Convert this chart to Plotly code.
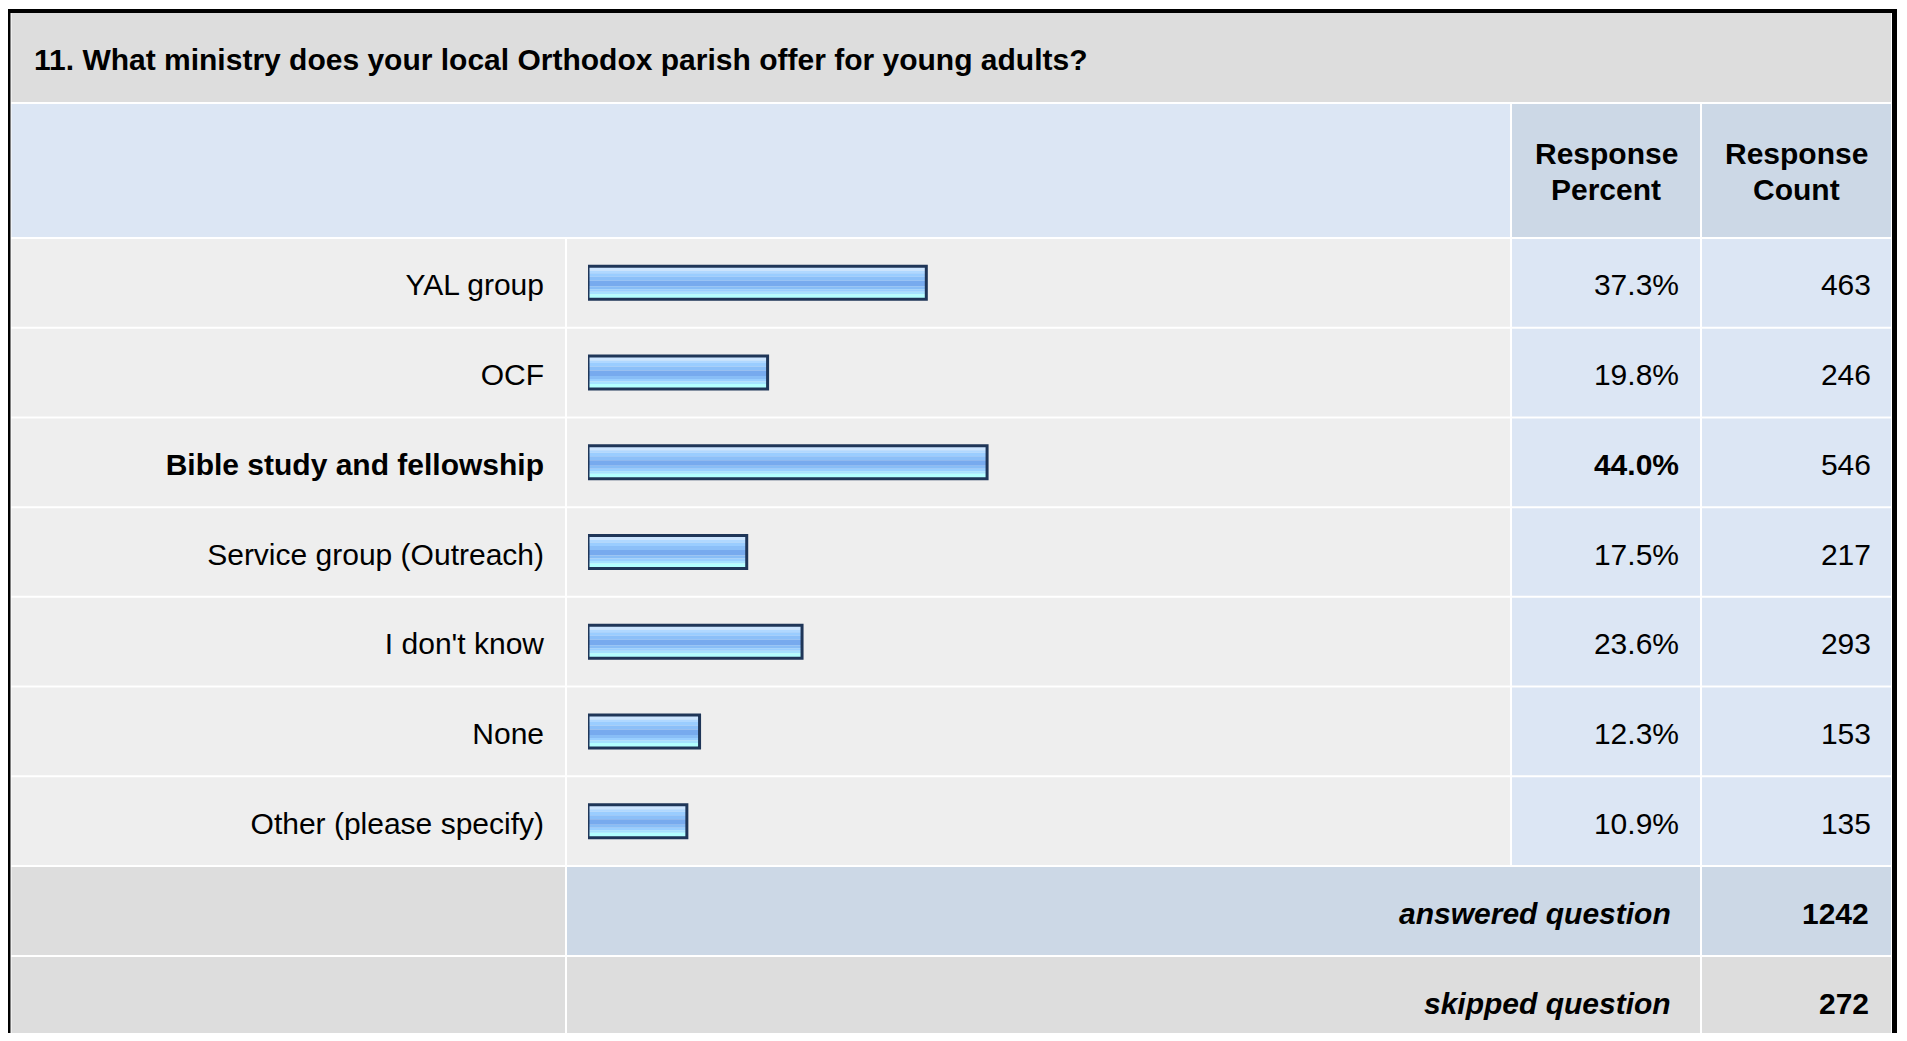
import plotly.graph_objects as go

# survey data
title_text = "11. What ministry does your local Orthodox parish offer for young adults?"
labels = ["YAL group", "OCF", "Bible study and fellowship", "Service group (Outreach)",
          "I don't know", "None", "Other (please specify)"]
percents = [37.3, 19.8, 44.0, 17.5, 23.6, 12.3, 10.9]
counts = [463, 246, 546, 217, 293, 153, 135]
answered_count = 1242
skipped_count = 272

# page geometry (browser body has an 8px margin)
OFF = 8
FW, FH = 1891, 1025
FONT = "Liberation Sans, Arial, sans-serif"

def px(X):
  return (X - OFF) / FW

def py(Y):
  return 1 - (Y - OFF) / FH

ROW_TOP, ROW_BOT = 238, 866
ROW_H = (ROW_BOT - ROW_TOP) / len(labels)
BAR_X0, PX_PER_PCT = 588, 9.07

shapes = []
def cell(x0, y0, x1, y1, color):
  shapes.append(dict(type="rect", xref="paper", yref="paper", layer="below",
                     x0=px(x0), x1=px(x1), y0=py(y1), y1=py(y0),
                     fillcolor=color, line=dict(width=0)))

# outer frame
cell(5, 9, 1897, 13, "#000000")
cell(5, 9, 10.5, 1060, "#000000")
cell(1892, 9, 1897, 1060, "#000000")

# title + header
cell(11.5, 13, 1891, 102, "#DDDDDD")
cell(11.5, 104, 1510, 237, "#DCE6F4")
cell(1512, 104, 1700, 237, "#CCD8E6")
cell(1702, 104, 1891, 237, "#CCD8E6")

# data rows
for i in range(len(labels)):
  t = ROW_TOP + i * ROW_H + 1
  b = ROW_TOP + (i + 1) * ROW_H - 1
  cell(11.5, t, 565, b, "#EEEEEE")
  cell(567, t, 1510, b, "#EEEEEE")
  cell(1512, t, 1700, b, "#DCE6F4")
  cell(1702, t, 1891, b, "#DCE6F4")

# footer rows
cell(11.5, 867, 565, 955, "#DDDDDD")
cell(567, 867, 1700, 955, "#CCD8E6")
cell(1702, 867, 1891, 955, "#CCD8E6")
cell(11.5, 957, 565, 1060, "#DDDDDD")
cell(567, 957, 1700, 1060, "#DDDDDD")
cell(1702, 957, 1891, 1060, "#DDDDDD")

fig = go.Figure()

idx = list(range(len(labels)))
bar_h = 33  # px, outer geometry of the bar
# glossy stripes (top px, bottom px, colour) measured from bar top
stripes = [(0, 4.5, "#CCE5FF"), (4.5, 7, "#B0D8FF"), (7, 10.5, "#9ACDFF"),
           (10.5, 14.5, "#8BBFF8"), (14.5, 20, "#77AAEE"), (20, 23, "#88BDF6"),
           (23, 25.5, "#99CFFF"), (25.5, 28, "#A6E2FF"), (28, 33, "#B3FFFF")]
for t0, t1, col in stripes:
  fig.add_trace(go.Bar(x=percents, y=idx, orientation="h",
                       width=(t1 - t0) / ROW_H, offset=(t0 - bar_h / 2) / ROW_H,
                       marker=dict(color=col, line=dict(width=0)),
                       hoverinfo="skip", showlegend=False))
# bar outline
fig.add_trace(go.Bar(x=percents, y=idx, orientation="h",
                     width=bar_h / ROW_H, offset=-bar_h / 2 / ROW_H,
                     marker=dict(color="rgba(0,0,0,0)", line=dict(color="#1F3658", width=3)),
                     hoverinfo="skip", showlegend=False))

top = max(percents)
lab_txt = [f"<b>{l}</b>" if p == top else l for l, p in zip(labels, percents)]
pct_txt = [f"<b>{p:.1f}%</b>" if p == top else f"{p:.1f}%" for p in percents]
cnt_txt = [str(c) for c in counts]

for xpos, txt in [(544, lab_txt), (1679, pct_txt), (1871, cnt_txt)]:
  fig.add_trace(go.Scatter(x=[xpos] * len(idx), y=idx, mode="text", text=txt,
                           textposition="middle left", xaxis="x2", yaxis="y2",
                           textfont=dict(family=FONT, size=30, color="#000000"),
                           cliponaxis=False, hoverinfo="skip", showlegend=False))

annotations = [
  dict(text=f"<b>{title_text}</b>", x=px(32), y=py(59), xanchor="left", yanchor="middle"),
  dict(text="<b>Response</b>", x=px(1606), y=py(153), xanchor="center", yanchor="middle"),
  dict(text="<b>Percent</b>", x=px(1606), y=py(190), xanchor="center", yanchor="middle"),
  dict(text="<b>Response</b>", x=px(1796), y=py(153), xanchor="center", yanchor="middle"),
  dict(text="<b>Count</b>", x=px(1796), y=py(190), xanchor="center", yanchor="middle"),
  dict(text="<b><i>answered question</i></b>", x=px(1673), y=py(913), xanchor="right",
       yanchor="middle"),
  dict(text=f"<b>{answered_count}</b>", x=px(1871), y=py(913), xanchor="right",
       yanchor="middle"),
  dict(text="<b><i>skipped question</i></b>", x=px(1673), y=py(1003), xanchor="right",
       yanchor="middle"),
  dict(text=f"<b>{skipped_count}</b>", x=px(1871), y=py(1003), xanchor="right",
       yanchor="middle"),
]
for a in annotations:
  a.update(xref="paper", yref="paper", showarrow=False,
           font=dict(family=FONT, size=30, color="#000000"))

fig.update_layout(
  width=FW, height=FH,
  margin=dict(l=0, r=0, t=0, b=0),
  paper_bgcolor="#FFFFFF", plot_bgcolor="rgba(0,0,0,0)",
  barmode="overlay",
  shapes=shapes, annotations=annotations,
  xaxis=dict(domain=[px(BAR_X0), px(BAR_X0 + 100 * PX_PER_PCT)], range=[0, 100],
             visible=False, fixedrange=True),
  yaxis=dict(domain=[py(ROW_BOT), py(ROW_TOP)], range=[len(labels) - 0.5, -0.5],
             visible=False, fixedrange=True),
  # text columns: pixel x axis, rows nudged down a few px to sit like the original
  xaxis2=dict(domain=[0, 1], range=[OFF, OFF + FW], anchor="y2", visible=False, fixedrange=True),
  yaxis2=dict(domain=[py(ROW_BOT + 5), py(ROW_TOP + 5)], range=[len(labels) - 0.5, -0.5],
              anchor="x2", visible=False, fixedrange=True),
)

fig.write_html("out.html")
